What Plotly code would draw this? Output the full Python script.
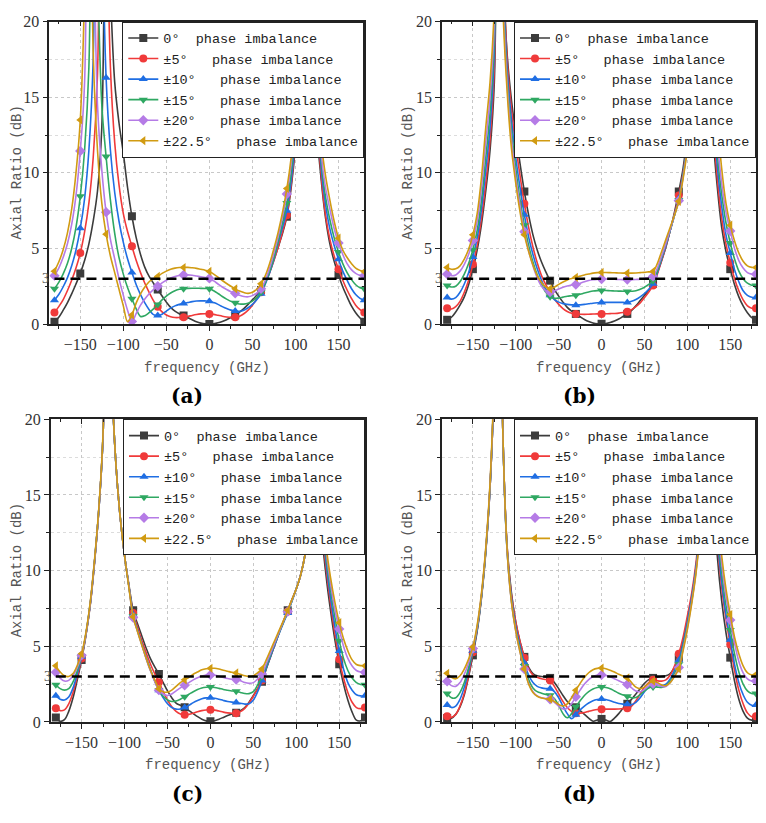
import plotly.graph_objects as go

# ---------------- data ----------------
FREQ = list(range(-180, 181, 5))          # GHz, curve sampling
MARKER_FREQ = list(range(-180, 181, 30))  # GHz, marker positions
THRESHOLD = 3
X_TICKS = [-150, -100, -50, 0, 50, 100, 150]
Y_TICKS = [0, 5, 10, 15, 20]

NAMES = ["0°\u00a0\u00a0phase imbalance",
         "±5°\u00a0\u00a0\u00a0phase imbalance",
         "±10°\u00a0\u00a0\u00a0phase imbalance",
         "±15°\u00a0\u00a0\u00a0phase imbalance",
         "±20°\u00a0\u00a0\u00a0phase imbalance",
         "±22.5°\u00a0\u00a0\u00a0phase imbalance"]
COLORS = ["#3c3c3c", "#f03a3a", "#1f6ee3", "#2fa862", "#b57be6", "#d19b12"]
SYMBOLS = ["square", "circle", "triangle-up", "triangle-down", "diamond", "triangle-left"]

# values above 20 dB are off-scale estimates of the peaks
A_0 = [0.15, 0.45, 0.9, 1.4, 2.0, 2.65,
       3.35, 4.2, 5.3, 6.8, 8.8, 13.0,
       30, 22, 16, 13.3, 11.3, 9.0,
       7.13, 5.7, 4.6, 3.75, 3.15, 2.7,
       2.29, 1.85, 1.45, 1.1, 0.85, 0.68,
       0.56, 0.42, 0.28, 0.15, 0.06, 0.01,
       0.0, 0.02, 0.08, 0.17, 0.29, 0.43,
       0.58, 0.78, 1.02, 1.3, 1.6, 1.9,
       2.25, 2.8, 3.45, 4.25, 5.1, 6.0,
       7.1, 9.0, 11.8, 16.5, 26, 40,
       30, 13, 9.5, 7.0, 5.3, 4.15,
       3.24, 2.45, 1.8, 1.2, 0.75, 0.4,
       0.15]
A_5 = [0.76, 1.15, 1.6, 2.2, 2.9, 3.7,
       4.7, 6.1, 8.0, 11.0, 16.5, 40,
       30, 17, 12, 9.2, 7.3, 6.1,
       5.14, 4.2, 3.4, 2.7, 2.1, 1.55,
       1.14, 0.8, 0.6, 0.48, 0.43, 0.43,
       0.45, 0.5, 0.57, 0.63, 0.67, 0.68,
       0.67, 0.64, 0.58, 0.52, 0.47, 0.44,
       0.45, 0.52, 0.68, 0.92, 1.25, 1.65,
       2.1, 2.7, 3.4, 4.2, 5.1, 6.1,
       7.2, 9.2, 12.2, 17, 28, 40,
       30, 14, 9.8, 7.2, 5.6, 4.5,
       3.63, 2.9, 2.25, 1.7, 1.25, 0.95,
       0.76]
A_10 = [1.58, 1.95, 2.45, 3.05, 3.85, 4.9,
        6.33, 8.3, 11.5, 17.5, 40, 28,
        16.3, 11.5, 8.7, 6.8, 5.4, 4.3,
        3.41, 2.6, 1.95, 1.4, 0.95, 0.62,
        0.56, 0.65, 0.85, 1.05, 1.2, 1.3,
        1.36, 1.42, 1.48, 1.52, 1.53, 1.53,
        1.51, 1.42, 1.3, 1.15, 1.02, 0.92,
        0.86, 0.85, 0.92, 1.08, 1.3, 1.6,
        2.0, 2.65, 3.4, 4.3, 5.4, 6.4,
        7.5, 9.5, 12.5, 17.5, 28, 40,
        30, 14.5, 10.3, 7.9, 6.3, 5.2,
        4.28, 3.5, 2.9, 2.35, 1.95, 1.7,
        1.58]
A_15 = [2.33, 2.75, 3.3, 4.0, 5.0, 6.4,
        8.45, 11.5, 17, 40, 24, 14.5,
        11.08, 8.2, 6.0, 4.4, 3.3, 2.4,
        1.68, 1.0, 0.5, 0.55, 0.75, 1.0,
        1.3, 1.6, 1.85, 2.05, 2.2, 2.3,
        2.33, 2.36, 2.37, 2.37, 2.36, 2.35,
        2.33, 2.2, 2.02, 1.82, 1.65, 1.5,
        1.4, 1.33, 1.32, 1.38, 1.52, 1.75,
        2.1, 2.75, 3.5, 4.4, 5.5, 6.7,
        8.0, 10, 13, 18, 28, 40,
        30, 15, 10.8, 8.4, 6.9, 5.7,
        4.77, 4.0, 3.4, 2.95, 2.6, 2.4,
        2.33]
A_20 = [3.2, 3.7, 4.4, 5.3, 6.6, 8.5,
        11.45, 16, 40, 28, 14.5, 10.2,
        7.4, 5.6, 4.3, 3.0, 1.9, 0.9,
        0.17, 0.7, 1.25, 1.65, 2.0, 2.28,
        2.5, 2.72, 2.9, 3.05, 3.15, 3.21,
        3.24, 3.25, 3.23, 3.18, 3.13, 3.08,
        3.02, 2.85, 2.65, 2.45, 2.28, 2.14,
        2.03, 1.9, 1.82, 1.8, 1.88, 2.05,
        2.33, 2.9, 3.7, 4.7, 5.8, 7.1,
        8.6, 10.6, 13.5, 18.5, 28, 40,
        30, 15.5, 11.2, 9.0, 7.6, 6.3,
        5.36, 4.6, 4.0, 3.6, 3.35, 3.22,
        3.2]
A_225 = [3.5, 4.1, 4.9, 6.0, 7.6, 10.0,
         13.5, 22, 40, 18, 11.5, 8.0,
         5.94, 4.5, 3.4, 2.3, 1.2, 0.15,
         0.6, 1.4, 2.0, 2.45, 2.8, 3.0,
         3.15, 3.35, 3.5, 3.62, 3.7, 3.74,
         3.74, 3.75, 3.72, 3.68, 3.62, 3.56,
         3.48, 3.3, 3.1, 2.88, 2.68, 2.5,
         2.33, 2.18, 2.08, 2.03, 2.1, 2.3,
         2.66, 3.2, 4.0, 5.0, 6.1, 7.4,
         8.96, 11, 14, 19, 28, 40,
         30, 16, 12, 9.8, 8.2, 6.8,
         5.68, 4.9, 4.4, 4.0, 3.7, 3.55,
         3.46]

B_0 = [0.28, 0.45, 0.8, 1.25, 1.8, 2.6,
       3.63, 4.9, 6.6, 8.8, 11.5, 16,
       40, 24, 17.8, 14.8, 12.6, 10.6,
       8.77, 7.2, 5.9, 4.9, 4.1, 3.45,
       2.87, 2.3, 1.85, 1.45, 1.1, 0.85,
       0.67, 0.48, 0.3, 0.16, 0.07, 0.02,
       0.02, 0.04, 0.1, 0.2, 0.33, 0.5,
       0.67, 0.9, 1.2, 1.55, 1.9, 2.25,
       2.66, 3.4, 4.2, 5.1, 6.2, 7.4,
       8.77, 10.3, 12.5, 16, 24, 40,
       40, 22, 12.5, 9.0, 6.4, 4.8,
       3.63, 2.6, 1.8, 1.2, 0.75, 0.42,
       0.28]
B_5 = [1.04, 1.0, 1.15, 1.5, 2.1, 2.9,
       3.95, 5.2, 7.0, 9.3, 12.2, 17,
       40, 25, 17.5, 14.2, 11.8, 9.8,
       7.95, 6.4, 5.1, 4.05, 3.2, 2.6,
       2.1, 1.65, 1.3, 1.02, 0.83, 0.72,
       0.67, 0.65, 0.64, 0.65, 0.66, 0.67,
       0.67, 0.68, 0.69, 0.7, 0.72, 0.76,
       0.82, 0.95, 1.15, 1.4, 1.75, 2.12,
       2.55, 3.3, 4.2, 5.15, 6.2, 7.3,
       8.5, 10, 12.2, 15.5, 23, 40,
       40, 23, 13.5, 9.6, 7.0, 5.3,
       4.06, 3.0, 2.2, 1.6, 1.2, 1.05,
       1.04]
B_10 = [1.75, 1.65, 1.75, 2.1, 2.65, 3.4,
        4.43, 5.7, 7.6, 10.2, 13, 18,
        40, 24, 16.8, 13.5, 11.0, 9.0,
        7.23, 5.75, 4.6, 3.65, 2.9, 2.3,
        1.9, 1.62, 1.45, 1.35, 1.3, 1.27,
        1.25, 1.27, 1.3, 1.34, 1.38, 1.41,
        1.43, 1.43, 1.43, 1.43, 1.43, 1.43,
        1.43, 1.5, 1.62, 1.8, 2.02, 2.3,
        2.66, 3.4, 4.3, 5.2, 6.2, 7.2,
        8.3, 9.9, 12, 15.2, 22, 40,
        40, 24, 14.5, 10.4, 7.8, 5.9,
        4.7, 3.6, 2.8, 2.2, 1.9, 1.77,
        1.75]
B_15 = [2.55, 2.45, 2.5, 2.8, 3.3, 4.0,
        4.92, 6.2, 8.2, 11, 14, 19,
        40, 23, 16.2, 12.8, 10.3, 8.2,
        6.54, 5.2, 4.1, 3.25, 2.6, 2.1,
        1.8, 1.7, 1.72, 1.78, 1.84, 1.87,
        1.9, 1.97, 2.05, 2.12, 2.18, 2.21,
        2.22, 2.22, 2.2, 2.19, 2.18, 2.17,
        2.16, 2.17, 2.2, 2.3, 2.43, 2.62,
        2.87, 3.5, 4.4, 5.3, 6.2, 7.2,
        8.2, 9.8, 11.9, 15, 21.5, 40,
        40, 25, 15.5, 11.2, 8.6, 6.7,
        5.36, 4.3, 3.5, 3.0, 2.7, 2.57,
        2.55]
B_20 = [3.3, 3.2, 3.25, 3.5, 3.95, 4.6,
        5.53, 6.8, 9.0, 12, 15, 20,
        40, 22, 15.8, 12.2, 9.7, 7.8,
        6.11, 4.85, 3.85, 3.05, 2.5, 2.2,
        2.12, 2.2, 2.32, 2.43, 2.52, 2.58,
        2.61, 2.7, 2.8, 2.88, 2.93, 2.96,
        2.98, 2.98, 2.97, 2.96, 2.95, 2.94,
        2.94, 2.94, 2.95, 2.97, 3.02, 3.08,
        3.15, 3.7, 4.5, 5.35, 6.25, 7.2,
        8.16, 9.7, 11.8, 15, 21, 40,
        40, 26, 16.5, 12, 9.3, 7.4,
        6.15, 5.0, 4.2, 3.7, 3.4, 3.3,
        3.3]
B_225 = [3.74, 3.62, 3.65, 3.85, 4.3, 4.95,
         5.9, 7.3, 9.7, 13, 16, 21,
         40, 21, 15.3, 11.6, 9.3, 7.4,
         5.9, 4.8, 3.9, 3.2, 2.75, 2.45,
         2.33, 2.45, 2.62, 2.78, 2.92, 3.01,
         3.09, 3.17, 3.25, 3.31, 3.37, 3.4,
         3.41, 3.41, 3.4, 3.39, 3.38, 3.37,
         3.37, 3.37, 3.38, 3.4, 3.42, 3.45,
         3.48, 4.0, 4.8, 5.6, 6.4, 7.2,
         8.12, 9.6, 11.6, 14.8, 21, 40,
         40, 27, 17.5, 13.5, 10.3, 8.0,
         6.54, 5.5, 4.7, 4.15, 3.85, 3.75,
         3.74]

C_0 = [0.3, 0.05, 0.15, 0.7, 1.6, 2.8,
       4.1, 5.7, 7.7, 10.5, 14, 19,
       40, 23, 17, 13.5, 11, 9.1,
       7.38, 6.5, 5.7, 4.9, 4.2, 3.65,
       3.17, 2.6, 2.05, 1.6, 1.25, 1.1,
       0.97, 0.75, 0.55, 0.35, 0.18, 0.07,
       0.04, 0.08, 0.18, 0.3, 0.42, 0.52,
       0.6, 0.75, 0.95, 1.3, 1.75, 2.2,
       2.65, 3.5, 4.3, 5.1, 5.9, 6.65,
       7.38, 8.1, 8.8, 9.7, 11.0, 13.5,
       28, 40, 12.5, 9.5, 7.3, 5.4,
       3.82, 2.5, 1.45, 0.65, 0.12, 0.08,
       0.3]
C_5 = [0.91, 0.75, 0.8, 1.2, 1.95, 3.0,
       4.2, 5.75, 7.75, 10.55, 14, 19,
       40, 23, 17, 13.5, 11, 9.0,
       7.2, 6.3, 5.4, 4.6, 3.85, 3.2,
       2.63, 2.0, 1.45, 1.0, 0.7, 0.52,
       0.47, 0.5, 0.58, 0.68, 0.75, 0.79,
       0.8, 0.78, 0.72, 0.65, 0.6, 0.57,
       0.58, 0.68, 0.9, 1.25, 1.7, 2.2,
       2.74, 3.55, 4.35, 5.1, 5.9, 6.6,
       7.3, 8.05, 8.8, 9.7, 11.0, 13.5,
       28, 40, 13, 10, 7.8, 5.8,
       4.14, 2.9, 1.95, 1.3, 0.95, 0.88,
       0.95]
C_10 = [1.73, 1.5, 1.45, 1.65, 2.25, 3.2,
        4.3, 5.8, 7.8, 10.6, 14, 19,
        40, 23, 17, 13.5, 11, 9.0,
        7.1, 6.1, 5.2, 4.3, 3.5, 2.75,
        2.1, 1.6, 1.2, 0.95, 0.85, 0.86,
        0.95, 1.1, 1.28, 1.42, 1.53, 1.59,
        1.6, 1.57, 1.5, 1.42, 1.35, 1.31,
        1.29, 1.23, 1.18, 1.2, 1.45, 2.0,
        2.74, 3.55, 4.35, 5.1, 5.85, 6.55,
        7.2, 8.0, 8.8, 9.7, 11.0, 13.5,
        28, 40, 13.5, 10.4, 8.2, 6.3,
        4.68, 3.5, 2.6, 2.1, 1.8, 1.72,
        1.73]
C_15 = [2.46, 2.2, 2.1, 2.2, 2.65, 3.4,
        4.35, 5.8, 7.8, 10.6, 14, 19,
        40, 23, 17, 13.5, 11, 9.0,
        7.0, 6.05, 5.15, 4.25, 3.45, 2.72,
        2.1, 1.7, 1.45, 1.35, 1.38, 1.5,
        1.66, 1.83, 2.0, 2.14, 2.24, 2.29,
        2.31, 2.28, 2.22, 2.15, 2.1, 2.05,
        2.03, 1.95, 1.88, 1.87, 2.0, 2.45,
        3.0, 3.7, 4.45, 5.2, 5.9, 6.6,
        7.25, 8.0, 8.8, 9.7, 11.0, 13.5,
        28, 40, 14, 10.8, 8.7, 6.9,
        5.37, 4.2, 3.4, 2.9, 2.6, 2.48,
        2.46]
C_20 = [3.28, 2.9, 2.7, 2.75, 3.05, 3.6,
        4.4, 5.8, 7.8, 10.6, 14, 19,
        40, 23, 17, 13.5, 11, 9.0,
        6.9, 6.0, 5.1, 4.2, 3.4, 2.7,
        2.1, 1.85, 1.75, 1.85, 2.05, 2.25,
        2.42, 2.6, 2.78, 2.92, 3.03, 3.1,
        3.11, 3.08, 3.02, 2.94, 2.87, 2.82,
        2.8, 2.72, 2.6, 2.55, 2.6, 2.85,
        3.17, 3.85, 4.55, 5.25, 5.95, 6.65,
        7.3, 8.05, 8.8, 9.7, 11.0, 13.5,
        28, 40, 14.5, 11.2, 9.1, 7.4,
        6.15, 5.0, 4.2, 3.7, 3.4, 3.3,
        3.28]
C_225 = [3.71, 3.3, 3.05, 3.0, 3.2, 3.75,
         4.5, 5.9, 7.9, 10.7, 14.1, 19.2,
         40, 23, 17, 13.5, 11, 8.9,
         6.95, 6.0, 5.1, 4.25, 3.45, 2.8,
         2.2, 2.0, 1.97, 2.1, 2.35, 2.6,
         2.78, 2.95, 3.15, 3.3, 3.45, 3.52,
         3.54, 3.55, 3.5, 3.42, 3.35, 3.28,
         3.24, 3.15, 3.05, 3.0, 3.05, 3.25,
         3.5, 4.1, 4.75, 5.4, 6.05, 6.7,
         7.38, 8.1, 8.8, 9.7, 11.0, 13.5,
         28, 40, 15, 11.5, 9.5, 7.9,
         6.56, 5.5, 4.7, 4.1, 3.8, 3.72,
         3.71]

D_0 = [0.26, 0.25, 0.5, 1.0, 1.8, 3.0,
       4.4, 6.0, 8.2, 11.2, 15.5, 23,
       40, 19, 11.5, 8.5, 6.6, 5.3,
       4.3, 3.6, 3.2, 3.05, 3.0, 2.95,
       2.91, 2.6, 2.2, 1.75, 1.35, 1.1,
       0.97, 0.75, 0.5, 0.25, 0.05, 0.12,
       0.2, 0.12, 0.03, 0.25, 0.55, 0.9,
       1.2, 1.5, 1.85, 2.2, 2.55, 2.8,
       2.91, 2.95, 3.0, 3.05, 3.2, 3.6,
       4.25, 5.3, 6.6, 8.2, 10.2, 13.2,
       22, 40, 15.5, 10.9, 8.0, 5.9,
       4.25, 2.7, 1.5, 0.7, 0.25, 0.12,
       0.15]
D_5 = [0.37, 0.3, 0.5, 1.05, 1.9, 3.1,
       4.6, 6.1, 8.3, 11.3, 15.5, 23,
       40, 19, 11.5, 8.4, 6.6, 5.3,
       4.25, 3.5, 3.1, 2.95, 2.85, 2.8,
       2.74, 2.35, 1.85, 1.35, 0.95, 0.7,
       0.58, 0.58, 0.62, 0.7, 0.77, 0.82,
       0.84, 0.85, 0.85, 0.85, 0.86, 0.88,
       0.9, 1.05, 1.4, 1.85, 2.3, 2.6,
       2.78, 2.72, 2.7, 2.78, 3.1, 3.7,
       4.51, 5.6, 7.0, 8.5, 10.5, 13.5,
       22, 40, 16.5, 11.8, 8.9, 6.8,
       5.11, 3.4, 2.1, 1.2, 0.6, 0.35,
       0.37]
D_10 = [1.12, 0.95, 1.05, 1.5, 2.3, 3.4,
        4.7, 6.1, 8.3, 11.3, 15.5, 23,
        40, 19, 11.3, 8.2, 6.3, 5.0,
        3.9, 3.1, 2.6, 2.35, 2.25, 2.2,
        2.2, 2.0, 1.6, 1.05, 0.55, 0.22,
        0.47, 0.8, 1.05, 1.25, 1.4, 1.48,
        1.51, 1.48, 1.4, 1.3, 1.22, 1.18,
        1.17, 1.15, 1.3, 1.6, 2.0, 2.3,
        2.42, 2.42, 2.4, 2.5, 2.85, 3.4,
        4.08, 5.2, 6.6, 8.2, 10.2, 13.2,
        22, 40, 17, 12.2, 9.3, 7.1,
        5.44, 3.8, 2.6, 1.8, 1.3, 1.1,
        1.12]
D_15 = [1.88, 1.6, 1.6, 1.95, 2.6, 3.6,
        4.75, 6.2, 8.3, 11.3, 15.6, 23,
        40, 19, 11.2, 8.0, 6.1, 4.8,
        3.7, 2.8, 2.25, 2.0, 1.9, 1.82,
        1.77, 1.55, 1.1, 0.55, 0.28, 0.55,
        1.0, 1.4, 1.75, 2.0, 2.18, 2.28,
        2.31, 2.28, 2.2, 2.05, 1.9, 1.78,
        1.7, 1.6, 1.62, 1.8, 2.05, 2.25,
        2.31, 2.3, 2.28, 2.38, 2.7, 3.2,
        3.82, 5.0, 6.4, 8.0, 10.0, 13.0,
        22, 40, 17.5, 12.8, 9.9, 7.7,
        6.08, 4.5, 3.3, 2.5, 2.05, 1.88,
        1.88]
D_20 = [2.68, 2.4, 2.35, 2.6, 3.15, 3.9,
        4.85, 6.3, 8.4, 11.4, 15.7, 23,
        40, 19, 11.2, 7.9, 6.0, 4.6,
        3.5, 2.55, 2.0, 1.72, 1.6, 1.55,
        1.5, 1.3, 1.05, 0.85, 0.9, 1.2,
        1.66, 2.1, 2.5, 2.8, 3.0, 3.08,
        3.11, 3.07, 2.98, 2.85, 2.72, 2.6,
        2.48, 2.25, 2.05, 2.0, 2.15, 2.38,
        2.52, 2.45, 2.35, 2.35, 2.6, 3.05,
        3.6, 4.8, 6.2, 7.9, 9.9, 13.0,
        22, 40, 18, 13.4, 10.5, 8.3,
        6.73, 5.2, 4.0, 3.25, 2.85, 2.7,
        2.7]
D_225 = [3.21, 2.95, 2.85, 3.05, 3.5, 4.15,
         4.96, 6.4, 8.5, 11.5, 15.8, 23.5,
         40, 19, 11.3, 7.9, 6.0, 4.6,
         3.5, 2.5, 1.95, 1.7, 1.58, 1.53,
         1.5, 1.35, 1.15, 1.05, 1.2, 1.6,
         2.09, 2.55, 2.95, 3.25, 3.45, 3.54,
         3.56, 3.52, 3.42, 3.3, 3.15, 3.03,
         2.91, 2.6, 2.3, 2.2, 2.3, 2.55,
         2.7, 2.6, 2.45, 2.4, 2.6, 3.0,
         3.5, 4.7, 6.1, 7.8, 9.8, 12.8,
         22, 40, 18.5, 14, 11, 8.8,
         7.1, 5.6, 4.5, 3.7, 3.25, 3.1,
         3.13]

PANEL_LABELS = ["(a)", "(b)", "(c)", "(d)"]
X_TITLE = "frequency (GHz)"
Y_TITLE = "Axial Ratio (dB)"

# ---------------- layout geometry (fractions of the page) ----------------
W, H = 766, 823
panels = [
    dict(series=[A_0, A_5, A_10, A_15, A_20, A_225], xd=[49.3 / W, 364.3 / W], yd=[1 - 322.7 / H, 1 - 14 / H]),
    dict(series=[B_0, B_5, B_10, B_15, B_20, B_225], xd=[442 / W, 756 / W], yd=[1 - 322.7 / H, 1 - 14 / H]),
    dict(series=[C_0, C_5, C_10, C_15, C_20, C_225], xd=[50.7 / W, 365 / W], yd=[1 - 729 / H, 1 - 420 / H]),
    dict(series=[D_0, D_5, D_10, D_15, D_20, D_225], xd=[442 / W, 756 / W], yd=[1 - 729 / H, 1 - 420 / H]),
]
label_pos = [(187 / W, 1 - 396 / H), (579 / W, 1 - 396 / H), (187 / W, 1 - 803 / H), (579 / W, 1 - 803 / H)]
xtitle_y = [1 - 367.3 / H, 1 - 367.3 / H, 1 - 772.7 / H, 1 - 772.7 / H]
ytitle_x = [16.7 / W, 408 / W, 16.7 / W, 408 / W]

XR = [-186, 180]
YR = [0, 20]
MONO = "Liberation Mono"
SERIF = "Liberation Serif"
AX = "#222222"
GRID = "#c8c8c8"

fig = go.Figure()
layout = dict(width=W, height=H, margin=dict(l=0, r=0, t=0, b=0),
              paper_bgcolor="white", plot_bgcolor="white", showlegend=True,
              annotations=[])

for k, p in enumerate(panels):
    sfx = "" if k == 0 else str(k + 1)
    xa, ya = "x" + sfx, "y" + sfx
    xo, yo = "x" + str(k + 5), "y" + str(k + 5)
    leg = "legend" + sfx
    for s, vals in enumerate(p["series"]):
        assert len(vals) == len(FREQ), (k, s, len(vals))
        fig.add_trace(go.Scatter(x=FREQ, y=vals, mode="lines", xaxis=xa, yaxis=ya,
                                 line=dict(color=COLORS[s], width=1.6, shape="spline", smoothing=1.0),
                                 showlegend=False, hoverinfo="skip"))
        my = [vals[FREQ.index(f)] for f in MARKER_FREQ]
        fig.add_trace(go.Scatter(x=MARKER_FREQ, y=my, mode="markers", xaxis=xa, yaxis=ya,
                                 marker=dict(color=COLORS[s], symbol=SYMBOLS[s], size=8, line=dict(width=0)),
                                 showlegend=False, hoverinfo="skip"))
        fig.add_trace(go.Scatter(x=[None], y=[None], mode="lines+markers", xaxis=xa, yaxis=ya,
                                 name=NAMES[s], legend=leg,
                                 line=dict(color=COLORS[s], width=1.6),
                                 marker=dict(color=COLORS[s], symbol=SYMBOLS[s], size=8)))
    # threshold dashed line on overlay axes (drawn on top)
    fig.add_trace(go.Scatter(x=[-180, 180], y=[THRESHOLD, THRESHOLD], mode="lines", xaxis=xo, yaxis=yo,
                             line=dict(color="black", width=2.5, dash="10px,6px"),
                             showlegend=False, hoverinfo="skip"))

    tickfont = dict(family=SERIF, size=16, color="#333333")
    layout["xaxis" + sfx] = dict(domain=p["xd"], range=XR, anchor=ya, showline=True, linecolor=AX, linewidth=1.5,
                                 ticks="outside", ticklen=5, tickwidth=1.2, tickcolor=AX,
                                 tickvals=X_TICKS, tickfont=tickfont,
                                 showgrid=True, gridcolor=GRID, griddash="dot", gridwidth=1, zeroline=False,
                                 minor=dict(dtick=25, tick0=0, ticks="outside", ticklen=3, tickcolor=AX, showgrid=False))
    layout["yaxis" + sfx] = dict(domain=p["yd"], range=YR, anchor=xa, showline=True, linecolor=AX, linewidth=1.5,
                                 ticks="outside", ticklen=5, tickwidth=1.2, tickcolor=AX,
                                 tickvals=Y_TICKS, tickfont=tickfont,
                                 showgrid=True, gridcolor=GRID, griddash="dot", gridwidth=1, zeroline=False,
                                 minor=dict(dtick=2.5, tick0=0, ticks="outside", ticklen=3, tickcolor=AX,
                                            showgrid=True, gridcolor="#dcdcdc", griddash="dot"))
    layout["xaxis" + str(k + 5)] = dict(overlaying=xa, side="top", anchor=yo, range=XR, showline=True,
                                        linecolor=AX, linewidth=1.5, ticks="inside", ticklen=5, tickcolor=AX,
                                        tickvals=X_TICKS, showticklabels=False, showgrid=False, zeroline=False,
                                        minor=dict(dtick=25, tick0=0, ticks="inside", ticklen=3, tickcolor=AX))
    layout["yaxis" + str(k + 5)] = dict(overlaying=ya, side="right", anchor=xo, range=YR, showline=True,
                                        linecolor=AX, linewidth=1.5, ticks="inside", ticklen=5, tickcolor=AX,
                                        tickvals=Y_TICKS, showticklabels=False, showgrid=False, zeroline=False,
                                        minor=dict(dtick=2.5, tick0=0, ticks="inside", ticklen=3, tickcolor=AX))
    layout[leg] = dict(x=p["xd"][1], y=p["yd"][1], xanchor="right", yanchor="top",
                       bgcolor="white", bordercolor=AX, borderwidth=1,
                       font=dict(family=MONO, size=13.5, color="#222222"), tracegroupgap=0)

    ann = layout["annotations"]
    ann.append(dict(text=Y_TITLE, x=ytitle_x[k], y=(p["yd"][0] + p["yd"][1]) / 2, xref="paper", yref="paper",
                    textangle=-90, showarrow=False, xanchor="center", yanchor="middle",
                    font=dict(family=MONO, size=14, color="#555555")))
    ann.append(dict(text=X_TITLE, x=(p["xd"][0] + p["xd"][1]) / 2, y=xtitle_y[k], xref="paper", yref="paper",
                    showarrow=False, xanchor="center", yanchor="middle",
                    font=dict(family=MONO, size=14, color="#555555")))
    ann.append(dict(text="<b>" + PANEL_LABELS[k] + "</b>", x=label_pos[k][0], y=label_pos[k][1],
                    xref="paper", yref="paper", showarrow=False, xanchor="center", yanchor="middle",
                    font=dict(family="DejaVu Serif", size=20, color="black")))
    ann.append(dict(text=str(THRESHOLD), x=0, y=THRESHOLD, xref=xa + " domain", yref=ya,
                    showarrow=False, xanchor="right", yanchor="middle", xshift=2,
                    font=dict(family=SERIF, size=14, color="#555555")))

fig.update_layout(**layout)
fig.write_html("out.html")
